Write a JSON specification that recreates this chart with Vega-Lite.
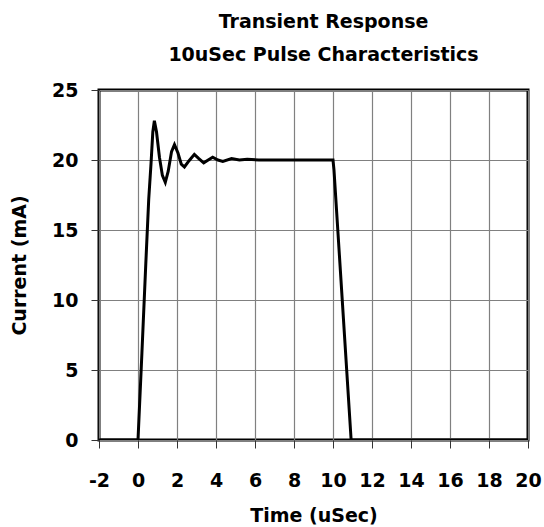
{
  "$schema": "https://vega.github.io/schema/vega-lite/v6.json",
  "autosize": {"type": "none"},
  "padding": {"left": 99, "top": 90, "right": 16, "bottom": 87},
  "width": 429,
  "height": 350,
  "background": "white",
  "title": {
    "text": ["Transient Response", "10uSec Pulse Characteristics"],
    "font": "DejaVu Sans",
    "fontSize": 19,
    "fontWeight": "bold",
    "color": "black",
    "lineHeight": 33,
    "anchor": "middle",
    "frame": "group",
    "dx": 10,
    "offset": 16
  },
  "config": {
    "view": {"stroke": "black", "strokeWidth": 3},
    "axis": {
      "labelFont": "DejaVu Sans",
      "labelFontSize": 19,
      "labelFontWeight": "bold",
      "labelColor": "black",
      "titleFont": "DejaVu Sans",
      "titleFontSize": 19,
      "titleFontWeight": "bold",
      "titleColor": "black",
      "domain": false,
      "grid": true,
      "gridColor": "#808080",
      "gridWidth": 1.2,
      "gridOpacity": 1,
      "ticks": true,
      "tickColor": "#333333",
      "tickSize": 8,
      "tickWidth": 1
    }
  },
  "data": {
    "values": [
      {"time": -2, "current": 0},
      {"time": 0, "current": 0},
      {"time": 0.2, "current": 6.2},
      {"time": 0.4, "current": 12.6},
      {"time": 0.55, "current": 17.2},
      {"time": 0.67, "current": 19.8},
      {"time": 0.76, "current": 22.0},
      {"time": 0.84, "current": 22.8},
      {"time": 0.95, "current": 22.0},
      {"time": 1.1, "current": 20.2},
      {"time": 1.25, "current": 18.9},
      {"time": 1.4, "current": 18.4},
      {"time": 1.55, "current": 19.2},
      {"time": 1.72, "current": 20.6},
      {"time": 1.87, "current": 21.1},
      {"time": 2.05, "current": 20.5},
      {"time": 2.22, "current": 19.7},
      {"time": 2.38, "current": 19.5},
      {"time": 2.62, "current": 19.95},
      {"time": 2.89, "current": 20.4},
      {"time": 3.12, "current": 20.1},
      {"time": 3.37, "current": 19.8},
      {"time": 3.6, "current": 20.0},
      {"time": 3.83, "current": 20.2},
      {"time": 4.1, "current": 20.0},
      {"time": 4.35, "current": 19.9},
      {"time": 4.8, "current": 20.1},
      {"time": 5.2, "current": 20.0},
      {"time": 5.6, "current": 20.05},
      {"time": 6.2, "current": 20.0},
      {"time": 7, "current": 20.0},
      {"time": 8, "current": 20.0},
      {"time": 9, "current": 20.0},
      {"time": 10, "current": 20.0},
      {"time": 10.05, "current": 19.3},
      {"time": 10.93, "current": 0},
      {"time": 20, "current": 0}
    ]
  },
  "mark": {"type": "line", "color": "black", "strokeWidth": 3, "clip": true},
  "encoding": {
    "x": {
      "field": "time",
      "type": "quantitative",
      "scale": {"domain": [-2, 20], "nice": false, "zero": false},
      "axis": {
        "title": "Time (uSec)",
        "values": [-2, 0, 2, 4, 6, 8, 10, 12, 14, 16, 18, 20],
        "labelExpr": "'' + datum.value",
        "labelPadding": 23,
        "labelFlush": false,
        "titleBaseline": "alphabetic",
        "titleY": 81
      }
    },
    "y": {
      "field": "current",
      "type": "quantitative",
      "scale": {"domain": [0, 25], "nice": false},
      "axis": {
        "title": "Current (mA)",
        "values": [0, 5, 10, 15, 20, 25],
        "labelPadding": 13,
        "labelFlush": false,
        "titleBaseline": "alphabetic",
        "titleX": -74,
        "titleY": 175
      }
    }
  }
}
